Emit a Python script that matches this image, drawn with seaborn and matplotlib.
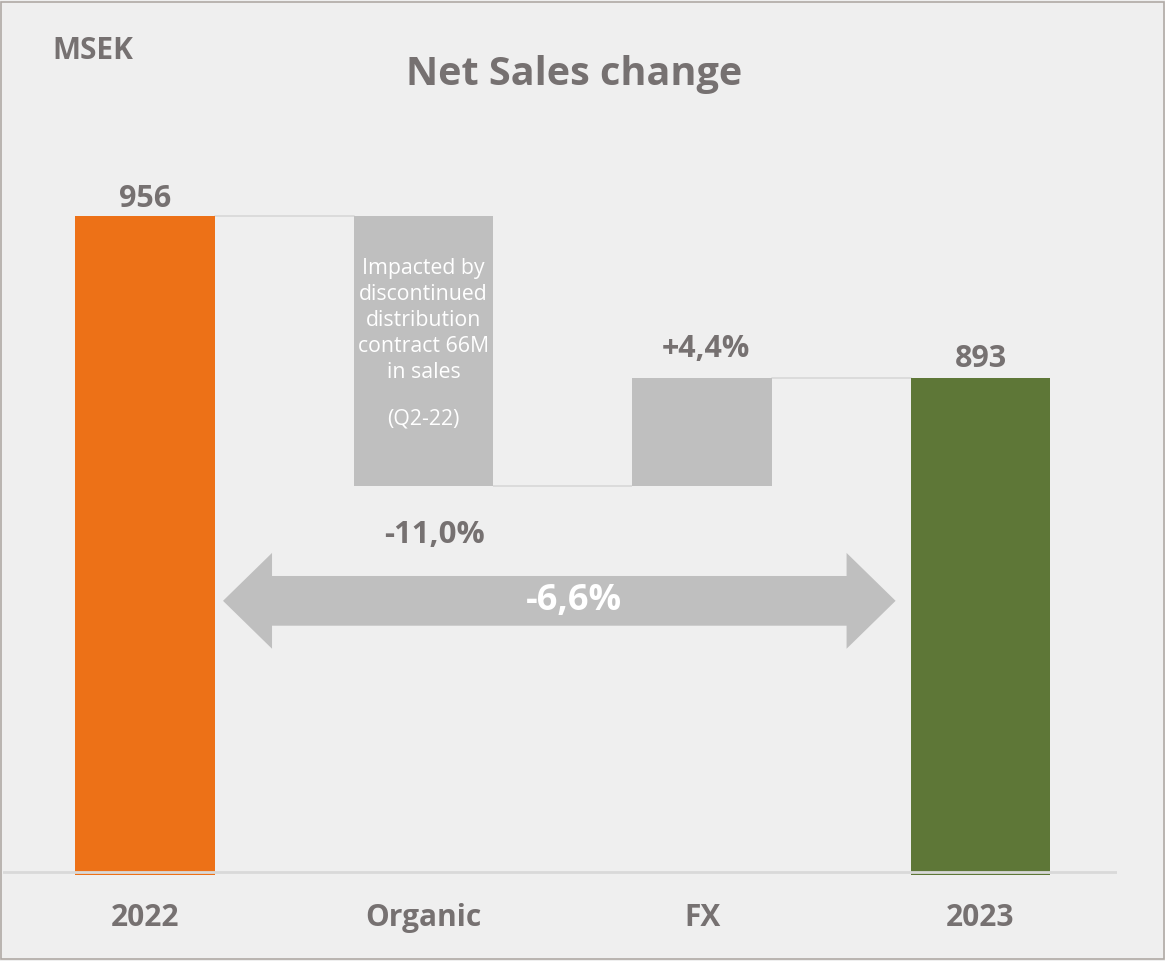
import pandas as pd
import seaborn as sns
import matplotlib.pyplot as plt
from matplotlib.patches import Polygon, Rectangle

# data
categories = ["2022", "Organic", "FX", "2023"]
start_value = 956
changes = [-105, 42]
end_value = 893
top_labels = ["956", "", "+4,4%", "893"]
organic_label = "-11,0%"
total_change_label = "-6,6%"
organic_note = "Impacted by\ndiscontinued\ndistribution\ncontract 66M\nin sales"
organic_note2 = "(Q2-22)"

# waterfall levels
levels = [start_value]
for c in changes:
    levels.append(levels[-1] + c)
tops = [start_value, max(levels[0], levels[1]), max(levels[1], levels[2]), end_value]
bottoms = [0, min(levels[0], levels[1]), min(levels[1], levels[2]), 0]

df = pd.DataFrame({"step": categories, "top": tops, "bottom": bottoms})

bg = "#efefef"
txt = "#767171"
orange = "#ed7117"
green = "#5e7737"
grey = "#bfbfbf"
line_grey = "#d9d9d9"

sns.set_style("white")
plt.rcParams["font.family"] = ["Open Sans", "DejaVu Sans"]

fig = plt.figure(figsize=(11.65, 9.61), dpi=100, facecolor=bg)
ax = fig.add_axes([3 / 1165, 1 - 875 / 961, (1117 - 3) / 1165, (875 - 155) / 961])
ax.set_facecolor(bg)

sns.barplot(data=df, x="step", y="top", hue="step",
            palette=[orange, grey, grey, green], width=0.5, linewidth=0,
            edgecolor="none", saturation=1, legend=False, ax=ax, zorder=2)
sns.barplot(data=df, x="step", y="bottom", color=bg, width=0.5, linewidth=0,
            edgecolor="none", saturation=1, ax=ax, zorder=3)

ax.set_xlim(-0.51, 3.49)
ax.set_ylim(699, 980)

# baseline
ax.axhline(700, color=line_grey, lw=2, zorder=4)

# connectors
for i, y in enumerate(levels):
    ax.plot([i + 0.25, i + 0.75], [y, y], color=line_grey, lw=1.3, zorder=1)

# value labels
offsets = [7, 0, 11.3, 7.4]
for i, lab in enumerate(top_labels):
    if lab:
        xpos = i + (0.015 if i == 2 else 0)
        ax.text(xpos, tops[i] + offsets[i], lab, ha="center", va="center",
                fontsize=22, fontweight="bold", color=txt)
ax.text(1.04, bottoms[1] - 19.5, organic_label, ha="center", va="center",
        fontsize=22.5, fontweight="bold", color=txt)

# note inside organic bar
ax.text(1, 915.4, organic_note, ha="center", va="center", fontsize=15.3,
        color="white", linespacing=1.3, zorder=5)
ax.text(1, 876.8, organic_note2, ha="center", va="center", fontsize=15.3,
        color="white", zorder=5)

# double arrow
yc = 806
xl, xr = 0.28, 2.695
hl = 0.176
sh, hh = 9.7, 18.7
pts = [(xl, yc), (xl + hl, yc + hh), (xl + hl, yc + sh), (xr - hl, yc + sh),
       (xr - hl, yc + hh), (xr, yc), (xr - hl, yc - hh), (xr - hl, yc - sh),
       (xl + hl, yc - sh), (xl + hl, yc - hh)]
ax.add_patch(Polygon(pts, closed=True, facecolor=grey, edgecolor="none", zorder=5))
ax.text(1.54, yc, total_change_label, ha="center", va="center",
        fontsize=26, fontweight="bold", color="white", zorder=6)

# axes styling
sns.despine(ax=ax, left=True, bottom=True)
ax.set_yticks([])
ax.set_xlabel("")
ax.set_ylabel("")
ax.tick_params(axis="x", length=0, pad=20, labelsize=21.5, labelcolor=txt)
for t in ax.get_xticklabels():
    t.set_fontweight("bold")

# titles
fig.text(574 / 1165, 1 - 75 / 961, "Net Sales change", ha="center", va="center",
         fontsize=28.5, fontweight="bold", color=txt)
fig.text(52 / 1165, 1 - 51 / 961, "MSEK", ha="left", va="center",
         fontsize=21.5, fontweight="bold", color=txt)

# frame
fig.patches.append(Rectangle((0.001, 0.002), 0.998, 0.996, transform=fig.transFigure,
                             fill=False, edgecolor="#b0aaa5", lw=1.2))

fig.savefig("out.png", dpi=100, facecolor=bg)
